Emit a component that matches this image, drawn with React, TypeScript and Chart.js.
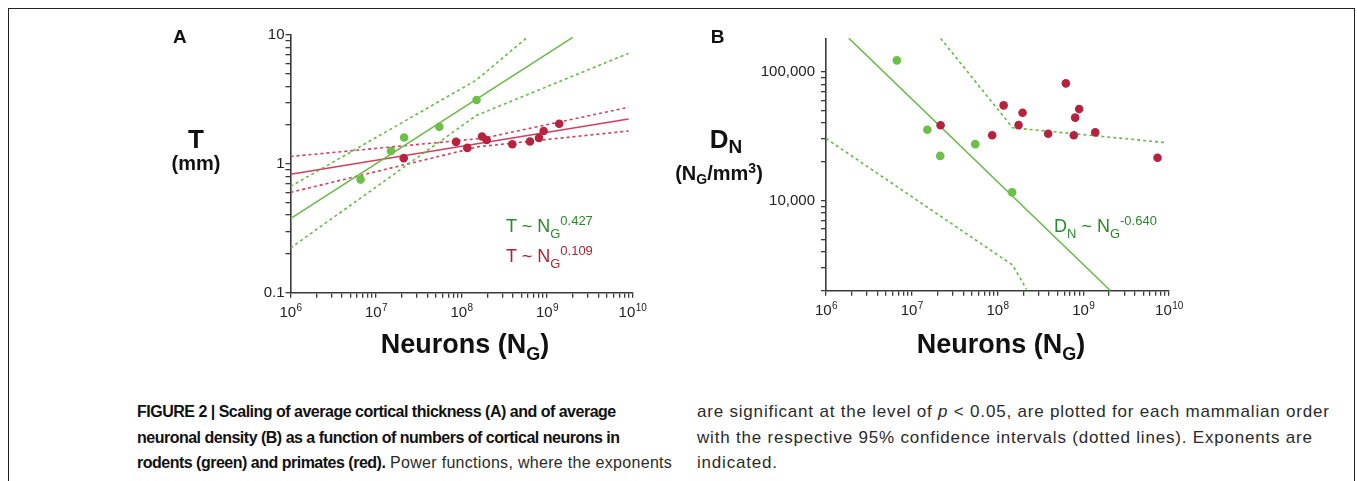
import React, { useEffect, useRef } from "react";
import { Chart, registerables } from "chart.js";
Chart.register(...registerables);

const FONT = '"Liberation Sans", Arial, Helvetica, sans-serif';
const GREEN_PT = "#6cc04a";
const GREEN_LN = "#68b848";
const RED_PT = "#b5233f";
const RED_LN = "#d0405c";
const GREEN_TXT = "#2a8a2a";
const RED_TXT = "#b31f33";
const AXIS = "#3a3a3a";
const TICK_TXT = "#222";

// ---------------- data ----------------
const xTickExponents = [6, 7, 8, 9, 10];
const yTicksA = [0.1, 1, 10];
const yTickLabelsA = ["0.1", "1", "10"];
const yTicksB = [10000, 100000];
const yTickLabelsB = ["10,000", "100,000"];

// Panel A: cortical thickness (mm)
const rodentNeuronsA = [6.6e6, 1.5e7, 2.13e7, 5.5e7, 1.5e8];
const rodentThickness = [0.755, 1.26, 1.6, 1.94, 3.13];
const primateNeuronsA = [2.11e7, 8.63e7, 1.17e8, 1.74e8, 1.97e8, 3.93e8, 6.32e8, 8.06e8, 9.14e8, 1.39e9];
const primateThickness = [1.107, 1.48, 1.33, 1.63, 1.53, 1.42, 1.49, 1.59, 1.8, 2.05];

const rodentFitAX = [1e6, 2e9];
const rodentFitAY = [0.375, 9.6];
const rodentCIUpperAX = [1e6, 1.5e8, 6e8];
const rodentCIUpperAY = [0.667, 4.48, 9.7];
const rodentCILowerAX = [1e6, 1.5e8, 9e9];
const rodentCILowerAY = [0.222, 2.38, 7.2];

const primateFitAX = [1e6, 9e9];
const primateFitAY = [0.832, 2.23];
const primateCIUpperAX = [1e6, 1.8e8, 9e9];
const primateCIUpperAY = [1.14, 1.58, 2.75];
const primateCILowerAX = [1e6, 1.6e8, 9e9];
const primateCILowerAY = [0.6, 1.36, 1.8];

// Panel B: neuronal density (neurons / mm3)
const rodentNeuronsB = [6.7e6, 1.52e7, 2.15e7, 5.5e7, 1.48e8];
const rodentDensity = [122600, 35400, 22200, 27400, 11550];
const primateNeuronsB = [2.17e7, 8.67e7, 1.18e8, 1.76e8, 1.96e8, 3.9e8, 6.27e8, 7.76e8, 8.05e8, 8.96e8, 1.38e9, 7.35e9];
const primateDensity = [38400, 32100, 54800, 38500, 48000, 33000, 81300, 32100, 44000, 51300, 33800, 21500];

const rodentFitBX = [1.82e6, 2.08e9];
const rodentFitBY = [184000, 1990];
const rodentCIUpperBX = [2.17e7, 1.5e8, 8.9e9];
const rodentCIUpperBY = [182000, 36700, 28200];
const rodentCILowerBX = [1e6, 1.5e8, 2.18e8];
const rodentCILowerBY = [30300, 3150, 2040];

// ---------------- helpers ----------------
const pts = (xs: number[], ys: number[]) => xs.map((x, i) => ({ x, y: ys[i] }));

function logTicks(min: number, max: number) {
  const out: { value: number }[] = [];
  for (let e = -3; e <= 12; e++) {
    for (let m = 1; m <= 9; m++) {
      const v = m * Math.pow(10, e);
      if (v >= min * 0.9999 && v <= max * 1.0001) out.push({ value: v });
    }
  }
  return out;
}

const pointSet = (xs: number[], ys: number[], color: string) => ({
  data: pts(xs, ys),
  showLine: false,
  pointRadius: 4.3,
  pointHoverRadius: 4.3,
  pointBackgroundColor: color,
  pointBorderColor: color,
  pointBorderWidth: 0,
});

const lineSet = (xs: number[], ys: number[], color: string, dashed: boolean) => ({
  data: pts(xs, ys),
  showLine: true,
  pointRadius: 0,
  borderColor: color,
  borderWidth: dashed ? 1.6 : 1.5,
  borderDash: dashed ? [3, 3] : [],
  tension: 0,
  fill: false,
});

const superTicks = {
  id: "superTicks",
  afterDraw(chart: any) {
    const s = chart.scales.x;
    const ctx = chart.ctx;
    ctx.save();
    ctx.fillStyle = TICK_TXT;
    ctx.textBaseline = "alphabetic";
    ctx.textAlign = "left";
    for (const e of xTickExponents) {
      const x = s.getPixelForValue(Math.pow(10, e));
      const base = `15px ${FONT}`;
      const sup = `10px ${FONT}`;
      ctx.font = base;
      const w1 = ctx.measureText("10").width;
      ctx.font = sup;
      const w2 = ctx.measureText(String(e)).width;
      const left = x - (w1 + w2) / 2;
      ctx.font = base;
      ctx.fillText("10", left, s.top + 24);
      ctx.font = sup;
      ctx.fillText(String(e), left + w1 + 0.5, s.top + 18.5);
    }
    ctx.restore();
  },
};

function makeConfig(p: {
  datasets: any[];
  yMin: number;
  yMax: number;
  yTicks: number[];
  yLabels: string[];
  yWidth: number;
  yPad: number;
  padding: { left: number; right: number; top: number; bottom: number };
}) {
  return {
    type: "scatter" as const,
    data: { datasets: p.datasets },
    plugins: [superTicks],
    options: {
      animation: false,
      responsive: false,
      devicePixelRatio: 1,
      events: [],
      layout: { padding: p.padding },
      plugins: { legend: { display: false }, tooltip: { enabled: false }, title: { display: false } },
      scales: {
        x: {
          type: "logarithmic",
          min: 1e6,
          max: 1e10,
          afterBuildTicks: (s: any) => {
            s.ticks = logTicks(1e6, 1e10);
          },
          afterFit: (s: any) => {
            s.height = 40;
          },
          grid: { display: true, drawOnChartArea: false, drawTicks: true, tickLength: 5, color: AXIS, tickColor: AXIS, lineWidth: 1.3 },
          border: { display: true, color: AXIS, width: 1.6 },
          ticks: { display: false, autoSkip: false },
        },
        y: {
          type: "logarithmic",
          min: p.yMin,
          max: p.yMax,
          afterBuildTicks: (s: any) => {
            s.ticks = logTicks(p.yMin, p.yMax);
          },
          afterFit: (s: any) => {
            s.width = p.yWidth;
          },
          grid: { display: true, drawOnChartArea: false, drawTicks: true, tickLength: 5, color: AXIS, tickColor: AXIS, lineWidth: 1.3 },
          border: { display: true, color: AXIS, width: 1.6 },
          ticks: {
            autoSkip: false,
            padding: p.yPad,
            color: TICK_TXT,
            font: { family: FONT, size: 15 },
            callback: (v: any) => {
              const i = p.yTicks.findIndex((t) => Math.abs(t - Number(v)) / t < 1e-6);
              return i >= 0 ? p.yLabels[i] : "";
            },
          },
        },
      },
    },
  };
}

const configA = () =>
  makeConfig({
    datasets: [
      pointSet(rodentNeuronsA, rodentThickness, GREEN_PT),
      pointSet(primateNeuronsA, primateThickness, RED_PT),
      lineSet(rodentFitAX, rodentFitAY, GREEN_LN, false),
      lineSet(rodentCIUpperAX, rodentCIUpperAY, GREEN_LN, true),
      lineSet(rodentCILowerAX, rodentCILowerAY, GREEN_LN, true),
      lineSet(primateFitAX, primateFitAY, RED_LN, false),
      lineSet(primateCIUpperAX, primateCIUpperAY, RED_LN, true),
      lineSet(primateCILowerAX, primateCILowerAY, RED_LN, true),
    ],
    yMin: 0.1,
    yMax: 10,
    yTicks: yTicksA,
    yLabels: yTickLabelsA,
    yWidth: 45,
    yPad: 1,
    padding: { left: 245.5, right: 47.5, top: 35, bottom: 7.3 },
  });

const configB = () =>
  makeConfig({
    datasets: [
      pointSet(rodentNeuronsB, rodentDensity, GREEN_PT),
      pointSet(primateNeuronsB, primateDensity, RED_PT),
      lineSet(rodentFitBX, rodentFitBY, GREEN_LN, false),
      lineSet(rodentCIUpperBX, rodentCIUpperBY, GREEN_LN, true),
      lineSet(rodentCILowerBX, rodentCILowerBY, GREEN_LN, true),
    ],
    yMin: 1990,
    yMax: 182000,
    yTicks: yTicksB,
    yLabels: yTickLabelsB,
    yWidth: 70,
    yPad: 6,
    padding: { left: 76, right: 188, top: 38.3, bottom: 9.3 },
  });

function ChartCanvas({ left, width, height, config }: { left: number; width: number; height: number; config: () => any }) {
  const ref = useRef<HTMLCanvasElement>(null);
  useEffect(() => {
    const chart = new Chart(ref.current as HTMLCanvasElement, config());
    return () => chart.destroy();
  }, []);
  return <canvas ref={ref} width={width} height={height} style={{ position: "absolute", left, top: 0, width, height }} />;
}

function Txt({ left, top, size, bold, color, center, children }: any) {
  return (
    <div
      style={{
        position: "absolute",
        left,
        top,
        fontSize: size,
        fontWeight: bold ? "bold" : "normal",
        color: color || "#111",
        lineHeight: 1,
        whiteSpace: "nowrap",
        fontFamily: FONT,
        transform: center ? "translateX(-50%)" : undefined,
      }}
    >
      {children}
    </div>
  );
}

const Sub = ({ size, dy, children }: any) => (
  <span style={{ fontSize: size, position: "relative", top: dy }}>{children}</span>
);

export default function App() {
  const capStyle: React.CSSProperties = {
    position: "absolute",
    top: 399.2,
    fontFamily: FONT,
    fontSize: 16,
    lineHeight: "25.5px",
    whiteSpace: "nowrap",
    color: "#2a2a2a",
  };
  const boldCap: React.CSSProperties = { color: "#111", letterSpacing: "-0.5px" };
  return (
    <div style={{ position: "absolute", left: 0, top: 0, width: 1357, height: 481, background: "#fff", overflow: "hidden" }}>
      <div style={{ position: "absolute", left: 7.5, top: 7.5, width: 1347.5, height: 520, border: "1.6px solid #222", boxSizing: "border-box" }} />
      <ChartCanvas left={0} width={680} height={340} config={configA} />
      <ChartCanvas left={680} width={677} height={340} config={configB} />

      {/* Panel A labels */}
      <Txt left={173} top={27.2} size={19} bold>A</Txt>
      <Txt left={196} top={126.3} size={26} bold center>T</Txt>
      <Txt left={196} top={152.9} size={20} bold center>(mm)</Txt>
      <Txt left={465} top={331.1} size={27} bold center>
        Neurons (N<Sub size={18} dy={7}>G</Sub>)
      </Txt>
      <Txt left={506} top={216.5} size={18} color={GREEN_TXT}>
        T ~ N<Sub size={13} dy={6}>G</Sub><Sub size={13} dy={-7}>0.427</Sub>
      </Txt>
      <Txt left={506} top={246.5} size={18} color={RED_TXT}>
        T ~ N<Sub size={13} dy={6}>G</Sub><Sub size={13} dy={-7}>0.109</Sub>
      </Txt>

      {/* Panel B labels */}
      <Txt left={710.7} top={27.2} size={19} bold>B</Txt>
      <Txt left={726} top={126.3} size={26} bold center>
        D<Sub size={19} dy={5}>N</Sub>
      </Txt>
      <Txt left={719} top={163} size={20} bold center>
        (N<Sub size={14} dy={4}>G</Sub>/mm<Sub size={14} dy={-7}>3</Sub>)
      </Txt>
      <Txt left={1001} top={331.1} size={27} bold center>
        Neurons (N<Sub size={18} dy={7}>G</Sub>)
      </Txt>
      <Txt left={1054} top={216.5} size={18} color={GREEN_TXT}>
        D<Sub size={13} dy={6}>N</Sub> ~ N<Sub size={13} dy={6}>G</Sub><Sub size={13} dy={-7}>-0.640</Sub>
      </Txt>

      {/* Caption */}
      <div style={{ ...capStyle, left: 137 }}>
        <b style={boldCap}>FIGURE 2 | Scaling of average cortical thickness (A) and of average</b>
        <br />
        <b style={boldCap}>neuronal density (B) as a function of numbers of cortical neurons in</b>
        <br />
        <b style={boldCap}>rodents (green) and primates (red).</b>
        <span style={{ letterSpacing: "0.3px" }}> Power functions, where the exponents</span>
      </div>
      <div style={{ ...capStyle, left: 697, fontSize: 17, letterSpacing: "0.8px" }}>
        are significant at the level of <i>p</i> &lt; 0.05, are plotted for each mammalian order
        <br />
        with the respective 95% confidence intervals (dotted lines). Exponents are
        <br />
        indicated.
      </div>
    </div>
  );
}
